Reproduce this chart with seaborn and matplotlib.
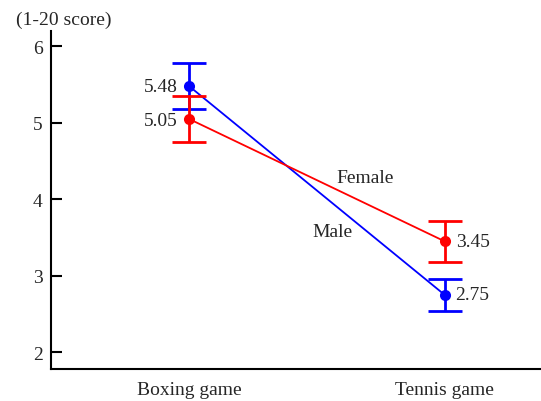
import matplotlib
matplotlib.use("Agg")
import matplotlib.pyplot as plt
import seaborn as sns
import pandas as pd

games = ["Boxing game", "Tennis game"]
male_means = [5.48, 2.75]
male_err = [0.30, 0.21]
female_means = [5.05, 3.45]
female_err = [0.30, 0.27]
yticks = [2, 3, 4, 5, 6]

sns.set_style("white")
plt.rcParams["font.family"] = ["Liberation Serif", "DejaVu Serif"]

df = pd.DataFrame({
    "x": [0, 1, 0, 1],
    "score": male_means + female_means,
    "sex": ["Male", "Male", "Female", "Female"],
})

fig = plt.figure(figsize=(5.41, 4.02), dpi=100)
ax = fig.add_axes([51 / 541, 32 / 402, 1 - 51 / 541 - 0.001, (370 - 32) / 402])

palette = {"Male": "#0000ff", "Female": "#ff0000"}
sns.lineplot(data=df, x="x", y="score", hue="sex", hue_order=["Male", "Female"],
             palette=palette, marker="o", markersize=8, markeredgewidth=0,
             linewidth=1.3, legend=False, ax=ax)

for means, errs, col in [(male_means, male_err, "#0000ff"), (female_means, female_err, "#ff0000")]:
    ax.errorbar([0, 1], means, yerr=errs, fmt="none", ecolor=col, elinewidth=2,
                capsize=12.5, capthick=2, zorder=3)

fs = 14
ax.text(-0.045, male_means[0], f"{male_means[0]:.2f}", ha="right", va="center", fontsize=fs)
ax.text(-0.045, female_means[0] - 0.02, f"{female_means[0]:.2f}", ha="right", va="center", fontsize=fs)
ax.text(1.045, female_means[1], f"{female_means[1]:.2f}", ha="left", va="center", fontsize=fs)
ax.text(1.04, male_means[1], f"{male_means[1]:.2f}", ha="left", va="center", fontsize=fs)

ax.text(0.69, 4.29, "Female", ha="center", va="center", fontsize=fs)
ax.text(0.56, 3.58, "Male", ha="center", va="center", fontsize=fs)

ax.set_xlim(-0.54, 1.375)
ax.set_ylim(1.78, 6.2)
ax.set_xticks([0, 1])
ax.set_xticklabels(games, fontsize=fs)
ax.set_yticks(yticks)
ax.set_yticklabels([str(t) for t in yticks], fontsize=fs)
ax.set_xlabel("")
ax.set_ylabel("")

for s in ["top", "right"]:
    ax.spines[s].set_visible(False)
for s in ["left", "bottom"]:
    ax.spines[s].set_color("black")
    ax.spines[s].set_linewidth(1.5)
ax.tick_params(axis="y", direction="in", length=8, width=1.5, color="black", pad=6, left=True)
ax.tick_params(axis="x", length=0, pad=9)

fig.text(16 / 541, 1 - 20 / 402, "(1-20 score)", ha="left", va="center", fontsize=fs)

fig.savefig("out.png", dpi=100)
